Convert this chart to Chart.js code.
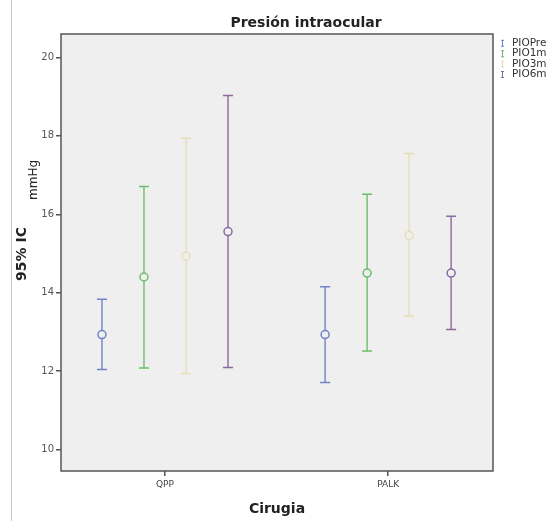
<!DOCTYPE html>
<html>
<head>
<meta charset="utf-8">
<script src="https://cdn.jsdelivr.net/npm/chart.js@4/dist/chart.umd.min.js"></script>
<style>
  html, body { margin: 0; padding: 0; background: #ffffff; }
  #wrap { width: 556px; height: 521px; position: relative; }
</style>
</head>
<body>
<div id="wrap"><canvas id="c" width="556" height="521"></canvas></div>
<script>
// ---- data ----
const categories = ['QPP', 'PALK'];
const categoryPositions = [1, 2];
const seriesNames = ['PIOPre', 'PIO1m', 'PIO3m', 'PIO6m'];
const seriesColors = ['#7082c8', '#6cbf68', '#e6dfb4', '#8a6aa0'];
const meanPIOPre = [12.93, 12.93];
const lowPIOPre  = [12.04, 11.71];
const highPIOPre = [13.83, 14.15];
const meanPIO1m = [14.40, 14.50];
const lowPIO1m  = [12.08, 12.51];
const highPIO1m = [16.71, 16.51];
const meanPIO3m = [14.93, 15.46];
const lowPIO3m  = [11.94, 13.40];
const highPIO3m = [17.94, 17.55];
const meanPIO6m = [15.56, 14.50];
const lowPIO6m  = [12.09, 13.06];
const highPIO6m = [19.03, 15.95];
const yTicks = [10, 12, 14, 16, 18, 20];

const means = [meanPIOPre, meanPIO1m, meanPIO3m, meanPIO6m];
const lows  = [lowPIOPre, lowPIO1m, lowPIO3m, lowPIO6m];
const highs = [highPIOPre, highPIO1m, highPIO3m, highPIO6m];

const datasets = seriesNames.map((name, s) => ({
  label: name,
  data: categories.map((c, i) => ({ x: categoryPositions[i], y: [lows[s][i], highs[s][i]] })),
  backgroundColor: seriesColors[s],
  borderWidth: 0,
  maxBarThickness: 1.4,
  categoryPercentage: 0.753,
  barPercentage: 1.0
}));

const decor = {
  id: 'decor',
  beforeDraw(chart) {
    const ctx = chart.ctx, a = chart.chartArea;
    ctx.save();
    ctx.fillStyle = '#ffffff';
    ctx.fillRect(0, 0, chart.width, chart.height);
    ctx.strokeStyle = '#c8c8c8';
    ctx.lineWidth = 1;
    ctx.beginPath(); ctx.moveTo(11.5, 0); ctx.lineTo(11.5, chart.height); ctx.stroke();
    ctx.fillStyle = '#efefef';
    ctx.fillRect(a.left, a.top, a.right - a.left, a.bottom - a.top);
    ctx.restore();
  },
  afterDatasetsDraw(chart) {
    const ctx = chart.ctx, y = chart.scales.y;
    ctx.save();
    chart.data.datasets.forEach((ds, s) => {
      const meta = chart.getDatasetMeta(s);
      meta.data.forEach((el, i) => {
        const x = el.x;
        const yl = y.getPixelForValue(lows[s][i]);
        const yh = y.getPixelForValue(highs[s][i]);
        const ym = y.getPixelForValue(means[s][i]);
        ctx.strokeStyle = seriesColors[s];
        ctx.lineWidth = 1.5;
        ctx.beginPath();
        ctx.moveTo(x - 5, yl); ctx.lineTo(x + 5, yl);
        ctx.moveTo(x - 5, yh); ctx.lineTo(x + 5, yh);
        ctx.stroke();
        ctx.beginPath();
        ctx.arc(x, ym, 4, 0, Math.PI * 2);
        ctx.fillStyle = '#efefef';
        ctx.fill();
        ctx.stroke();
      });
    });
    ctx.restore();
  },
  afterDraw(chart) {
    const ctx = chart.ctx, a = chart.chartArea;
    ctx.save();
    // frame
    ctx.strokeStyle = '#555555';
    ctx.lineWidth = 1.5;
    ctx.strokeRect(a.left, a.top, a.right - a.left, a.bottom - a.top);
    // title
    ctx.fillStyle = '#222222';
    ctx.font = 'bold 14px "DejaVu Sans", sans-serif';
    ctx.textAlign = 'center';
    ctx.textBaseline = 'middle';
    ctx.fillText('Presión intraocular', 306, 23);
    // x axis title
    ctx.fillText('Cirugia', 277, 509);
    // y axis title
    ctx.save();
    ctx.translate(22, 254);
    ctx.rotate(-Math.PI / 2);
    ctx.textAlign = 'center';
    ctx.font = 'bold 14px "DejaVu Sans", sans-serif';
    ctx.fillText('95% IC', 0, 0);
    ctx.font = '12px "DejaVu Sans", sans-serif';
    ctx.textAlign = 'left';
    ctx.fillText('mmHg', 54, 12);
    ctx.restore();
    // legend
    ctx.font = '10.5px "DejaVu Sans", sans-serif';
    ctx.textAlign = 'left';
    ctx.textBaseline = 'middle';
    seriesNames.forEach((name, s) => {
      const ly = 43.3 + s * 10.4;
      const lx = 502.5;
      ctx.strokeStyle = seriesColors[s];
      ctx.lineWidth = 1;
      ctx.beginPath();
      ctx.moveTo(lx, ly - 3); ctx.lineTo(lx, ly + 3);
      ctx.moveTo(lx - 1.5, ly - 3); ctx.lineTo(lx + 1.5, ly - 3);
      ctx.moveTo(lx - 1.5, ly + 3); ctx.lineTo(lx + 1.5, ly + 3);
      ctx.stroke();
      ctx.fillStyle = '#333333';
      ctx.fillText(name, 512, ly);
    });
    ctx.restore();
  }
};

new Chart(document.getElementById('c'), {
  type: 'bar',
  data: { datasets },
  options: {
    responsive: false,
    animation: false,
    layout: { padding: { top: 34, right: 63, left: 0, bottom: 0 } },
    plugins: { legend: { display: false }, title: { display: false }, tooltip: { enabled: false } },
    scales: {
      x: {
        type: 'linear',
        min: 0.534,
        max: 2.47,
        offset: false,
        afterBuildTicks(scale) { scale.ticks = categoryPositions.map(v => ({ value: v })); },
        grid: { offset: false, drawOnChartArea: false, drawTicks: true, tickLength: 5, color: '#555555', lineWidth: 1.5 },
        border: { display: false },
        ticks: {
          color: '#444444', font: { size: 9, family: '"DejaVu Sans", sans-serif' }, padding: 3,
          callback(v) { const i = categoryPositions.indexOf(v); return i >= 0 ? categories[i] : ''; }
        },
        afterFit(scale) { scale.height = 50; }
      },
      y: {
        min: 9.45,
        max: 20.6,
        afterBuildTicks(scale) { scale.ticks = yTicks.map(v => ({ value: v })); },
        grid: { drawOnChartArea: false, drawTicks: true, tickLength: 5, color: '#555555', lineWidth: 1.5 },
        border: { display: false },
        ticks: { color: '#555555', font: { size: 10, family: '"DejaVu Sans", sans-serif' }, padding: 2 },
        afterFit(scale) { scale.width = 61; }
      }
    }
  },
  plugins: [decor]
});
</script>
</body>
</html>
